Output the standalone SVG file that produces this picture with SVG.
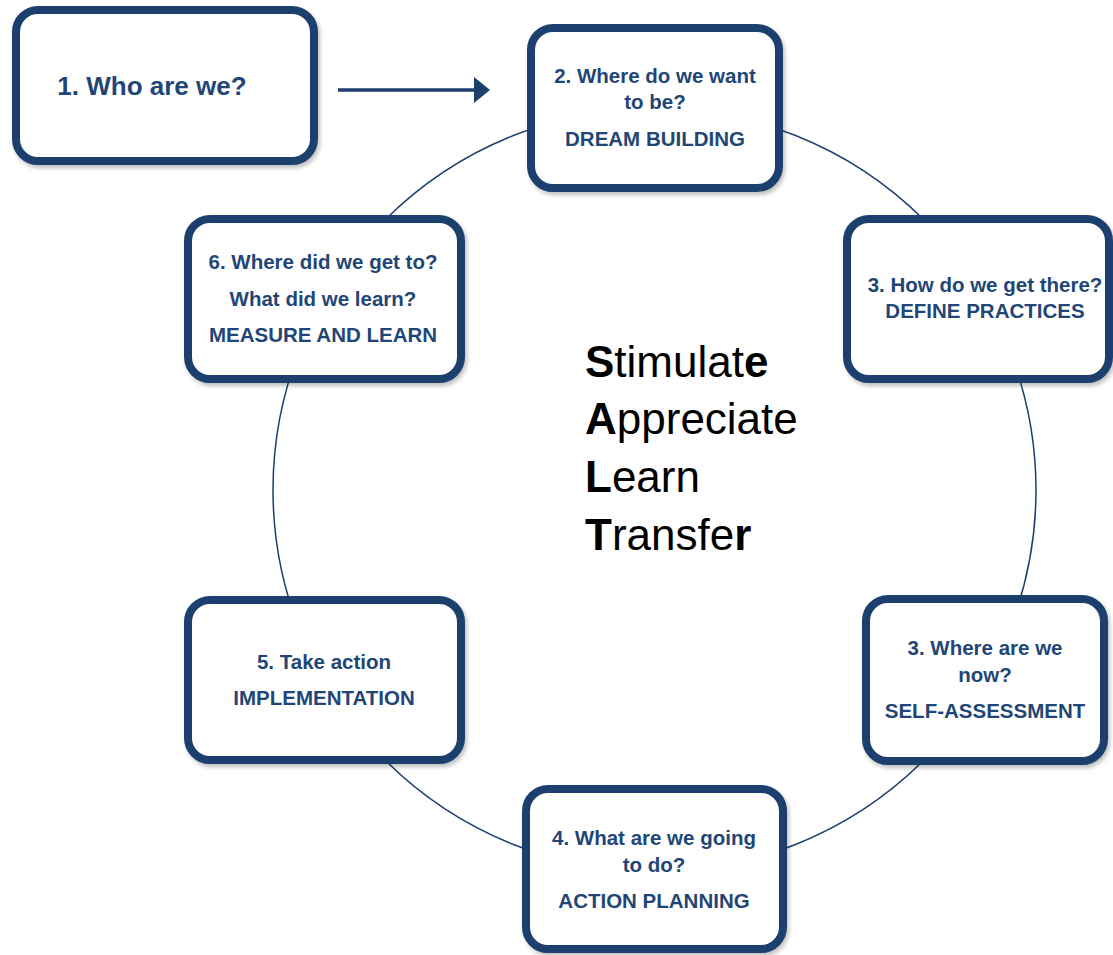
<svg xmlns="http://www.w3.org/2000/svg" width="1113" height="955" viewBox="0 0 1113 955">
<style>
.box{fill:#ffffff;stroke:#1E3F6E;stroke-width:8;filter:url(#sh)}
.t{font-family:"Liberation Sans",Arial,sans-serif;font-weight:bold;font-size:20.5px;fill:#1F4676;text-anchor:middle}
.big{font-family:"Liberation Sans",Arial,sans-serif;font-size:44px;fill:#000000}
.b{font-weight:bold}
</style>
<defs>
<filter id="sh" x="-10%" y="-10%" width="125%" height="130%">
<feDropShadow dx="2" dy="3" stdDeviation="2" flood-color="#000000" flood-opacity="0.25"/>
</filter>
<marker id="ah" markerUnits="userSpaceOnUse" markerWidth="16" markerHeight="26" viewBox="0 0 16 26" refX="0" refY="13" orient="auto">
<path d="M0,0 L16,13 L0,26 Z" fill="#1E3F6E"/>
</marker>
</defs>
<g id="connectors">
<circle cx="654.5" cy="490" r="381.5" fill="none" stroke="#1E3F6E" stroke-width="1.5"/>
<line x1="338" y1="90" x2="474" y2="90" stroke="#1E3F6E" stroke-width="3.5" marker-end="url(#ah)"/>
</g>
<g id="node1">
<rect class="box" x="16" y="10" width="298" height="151" rx="22"/>
<text class="t" x="152" y="95" style="font-size:26px">1. Who are we?</text>
</g>
<g id="node2">
<rect class="box" x="531" y="28" width="248" height="160" rx="22"/>
<text class="t" x="655" y="83">2. Where do we want</text>
<text class="t" x="655" y="109">to be?</text>
<text class="t" x="655" y="146">DREAM BUILDING</text>
</g>
<g id="node3">
<rect class="box" x="847" y="219" width="262" height="160" rx="22"/>
<text class="t" x="985" y="292">3. How do we get there?</text>
<text class="t" x="985" y="318">DEFINE PRACTICES</text>
</g>
<g id="node3b">
<rect class="box" x="866" y="599" width="238" height="162" rx="22"/>
<text class="t" x="985" y="655">3. Where are we</text>
<text class="t" x="985" y="682">now?</text>
<text class="t" x="985" y="718">SELF-ASSESSMENT</text>
</g>
<g id="node4">
<rect class="box" x="526" y="789" width="257" height="160" rx="22"/>
<text class="t" x="654" y="845">4. What are we going</text>
<text class="t" x="654" y="872">to do?</text>
<text class="t" x="654" y="908">ACTION PLANNING</text>
</g>
<g id="node5">
<rect class="box" x="188" y="600" width="273" height="160" rx="22"/>
<text class="t" x="324" y="669">5. Take action</text>
<text class="t" x="324" y="705">IMPLEMENTATION</text>
</g>
<g id="node6">
<rect class="box" x="188" y="219" width="273" height="160" rx="22"/>
<text class="t" x="323" y="269">6. Where did we get to?</text>
<text class="t" x="323" y="306">What did we learn?</text>
<text class="t" x="323" y="342">MEASURE AND LEARN</text>
</g>
<g id="center">
<text class="big" x="585" y="377"><tspan class="b">S</tspan>timulat<tspan class="b">e</tspan></text>
<text class="big" x="585" y="434"><tspan class="b">A</tspan>ppreciate</text>
<text class="big" x="585" y="492"><tspan class="b">L</tspan>earn</text>
<text class="big" x="585" y="550"><tspan class="b">T</tspan>ransfe<tspan class="b">r</tspan></text>
</g>
</svg>
